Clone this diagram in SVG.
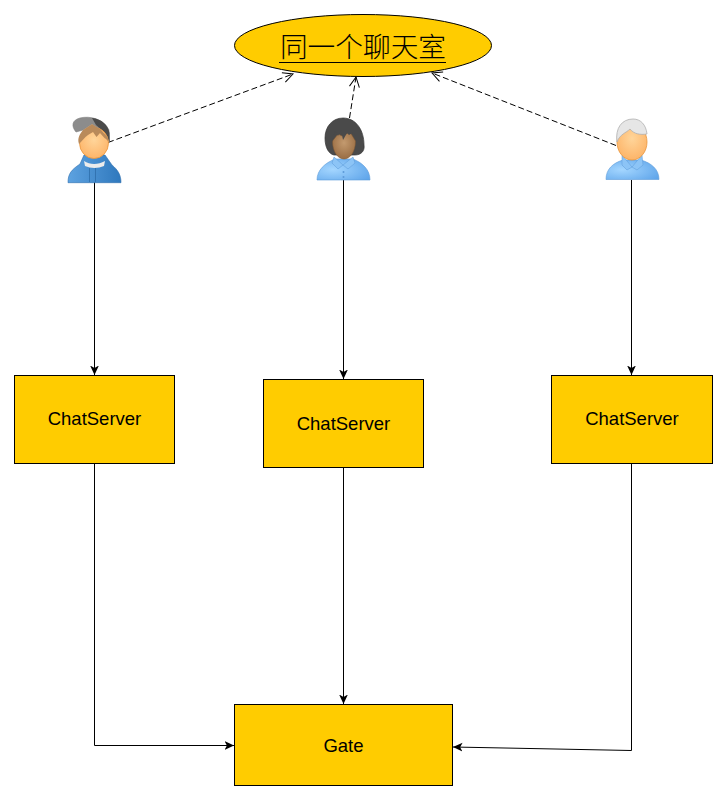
<svg xmlns="http://www.w3.org/2000/svg" width="726" height="800" viewBox="0 0 726 800">
<style>
.box{fill:#ffcc00;stroke:#000;stroke-width:1}
.lbl{font-family:"Liberation Sans",Arial,sans-serif;font-size:18.500px;fill:#000;text-anchor:middle}
.line{fill:none;stroke:#000;stroke-width:1}
.dash{fill:none;stroke:#000;stroke-width:1;stroke-dasharray:6 3}
.face{stroke:#e8963c;stroke-width:.8}
</style>
<defs>
<marker id="solid" viewBox="0 0 10 10" refX="9.500" refY="5" markerWidth="10" markerHeight="10" markerUnits="userSpaceOnUse" orient="auto"><path d="M0 .6 L9.500 5 L0 9.400 L2.400 5 Z" fill="#000"/></marker>
<marker id="open" viewBox="0 0 12 12" refX="11" refY="6" markerWidth="12" markerHeight="12" markerUnits="userSpaceOnUse" orient="auto"><path d="M1 1 L11 6 L1 11" fill="none" stroke="#000" stroke-width="1"/></marker>
<radialGradient id="skin" cx=".5" cy=".4" r=".65"><stop offset="0" stop-color="#ffd59a"/><stop offset="1" stop-color="#fdb265"/></radialGradient>
<radialGradient id="skinD" cx=".5" cy=".4" r=".65"><stop offset="0" stop-color="#c39a6f"/><stop offset="1" stop-color="#96693f"/></radialGradient>
<radialGradient id="shirt" cx=".3" cy=".5" r=".8"><stop offset="0" stop-color="#a4d6ff"/><stop offset="1" stop-color="#5fa5ea"/></radialGradient>
<linearGradient id="hood" x1="0" x2="1" y1="0" y2="0"><stop offset="0" stop-color="#5da2e0"/><stop offset="1" stop-color="#2f78bd"/></linearGradient>
</defs>
<g id="connectors">
<path class="line" marker-end="url(#solid)" d="M94.500 182V375"/>
<path class="line" marker-end="url(#solid)" d="M343.500 180V379"/>
<path class="line" marker-end="url(#solid)" d="M631.500 180V375"/>
<path class="line" marker-end="url(#solid)" d="M94.500 463V745.500H234"/>
<path class="line" marker-end="url(#solid)" d="M343.500 467V704"/>
<path class="line" marker-end="url(#solid)" d="M631.500 463V750.500L453 747"/>
<path class="dash" marker-end="url(#open)" d="M108 142.500L293 74"/>
<path class="dash" marker-end="url(#open)" d="M349.500 118L356 77"/>
<path class="dash" marker-end="url(#open)" d="M616 145.500L432 73"/>
</g>
<g id="room">
<ellipse cx="363" cy="45.500" rx="128.500" ry="31" fill="#ffcc00" stroke="#000"/>
<text x="363" y="57" text-anchor="middle" font-family="'Noto Sans CJK SC',sans-serif" font-weight="300" font-size="27.700px" fill="#000">同一个聊天室</text>
<path d="M279 62.500H446" stroke="#000" stroke-width="1" fill="none"/>
</g>
<g id="user1">
<path d="M68 182.700C68 174 71 170 80 164L84 155H105L112 165C118 170 121 175 121 182.700Z" fill="url(#hood)" stroke="#2f6fae" stroke-width=".6"/>
<path d="M84 161C90 165 98 165 105 161L104 166C98 168.500 91 168.500 85 166Z" fill="#ececec"/>
<path d="M89.500 168V182M95.500 168V182" stroke="#2a68a5" stroke-width=".7" fill="none"/>
<path d="M76 132C71 126 72 120 80 118C90 115.500 104 119 109 130L109.500 142L104 132L92 124L83 130Z" fill="#8c8c8c" stroke="#7c7c7c" stroke-width=".6"/>
<path d="M92 118C102 119 108 125 109.500 133L109.500 142L104 132L96 125Z" fill="#4a4a4a"/>
<ellipse class="face" cx="94" cy="143" rx="14.500" ry="15.500" fill="url(#skin)"/>
<path d="M79 144C77 138 80 134 83 130L92 124L100 129L107.500 137L109 142L106 139L104.500 138L100 133L96.500 137L93 132L88 135L85.500 137Z" fill="#b98a5a"/>
</g>
<g id="user2">
<path d="M317 180C317 170 325 163 335 159H353C363 163 370 170 370 180Z" fill="url(#shirt)" stroke="#5d9ad8" stroke-width=".6"/>
<path d="M334 157L343 165L353 157L355 163L348 169L343 165L338 169L332 163Z" fill="#8cc4f6" stroke="#5d9ad8" stroke-width=".5"/>
<circle cx="343.500" cy="172" r="1" fill="#5d9ad8"/><circle cx="343.500" cy="177" r="1" fill="#5d9ad8"/>
<path d="M343 118C332 118 325 127 325 138C325 148 329 154 334 155H355C361 155 365 151 364 145C364 130 356 118 343 118Z" fill="#4a4a4a" stroke="#333" stroke-width=".7"/>
<path d="M332.500 141C332.500 152 338 159 344 159C350 159 355.500 152 355.500 141L350 132L342 136L338 134Z" fill="url(#skinD)" stroke="#7a5530" stroke-width=".5"/>
<path d="M332 142L335 131L338 136L341 130L343 140L347 133L349 135L354 132L357 142V125H332Z" fill="#4a4a4a"/>
</g>
<g id="user3">
<path d="M606 179.500C606 169 613 163 623 160H641C651 163 659 169 659 179.500Z" fill="url(#shirt)" stroke="#5d9ad8" stroke-width=".6"/>
<path d="M622 155L632 167L642 155L643 165L637 170L632 167L627 170L622 165Z" fill="#8cc4f6" stroke="#5d9ad8" stroke-width=".5"/>
<ellipse class="face" cx="632" cy="142" rx="15" ry="18" fill="url(#skin)"/>
<path d="M617 142C615 128 622 119 633 119C641 119 646 125 647 134C640 135 634 134 630 129C626 133 620 134 617 142Z" fill="#e6e6e6" stroke="#b0b0b0" stroke-width=".8"/>
</g>
<g id="cs1"><rect class="box" x="14.500" y="375.500" width="160" height="88"/><text class="lbl" x="94.500" y="425">ChatServer</text></g>
<g id="cs2"><rect class="box" x="263.500" y="379.500" width="160" height="88"/><text class="lbl" x="343.500" y="430">ChatServer</text></g>
<g id="cs3"><rect class="box" x="551.500" y="375.500" width="161" height="88"/><text class="lbl" x="632" y="425">ChatServer</text></g>
<g id="gate"><rect class="box" x="234.500" y="704.500" width="218" height="81"/><text class="lbl" x="343.500" y="752">Gate</text></g>
</svg>
